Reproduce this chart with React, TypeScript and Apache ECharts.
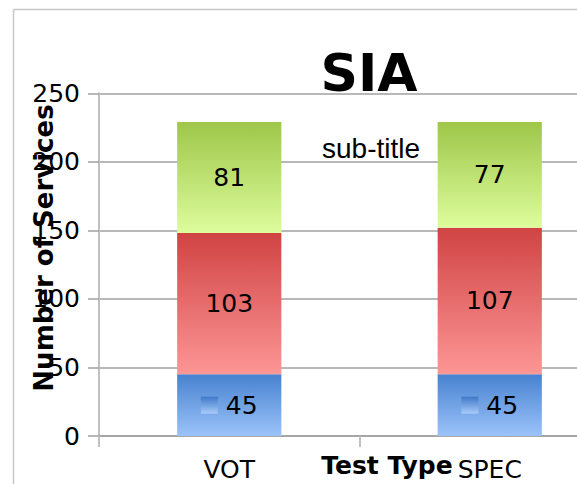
import React, { useEffect, useRef } from "react";
import * as echarts from "echarts";

const categories = ["VOT", "SPEC"];
const blueValues = [45, 45];
const redValues = [103, 107];
const greenValues = [81, 77];
const yTicks = { min: 0, max: 250, interval: 50 };

const FONT = "DejaVu Sans";

function grad(top: string, bottom: string) {
  return new echarts.graphic.LinearGradient(0, 0, 0, 1, [
    { offset: 0, color: top },
    { offset: 1, color: bottom },
  ]);
}

export default function App() {
  const ref = useRef<HTMLDivElement>(null);
  useEffect(() => {
    if (!ref.current) return;
    const chart = echarts.init(ref.current, null, { renderer: "svg" });
    const labelBase = {
      show: true,
      position: "inside",
      color: "#000",
      fontFamily: FONT,
      fontSize: 25,
    };
    chart.setOption({
      animation: false,
      grid: { left: 99, top: 93.3, right: -43, bottom: 48, outerBoundsMode: "none" },
      graphic: [
        { type: "line", shape: { x1: 13.5, y1: 9.5, x2: 13.5, y2: 484 }, style: { stroke: "#c8c8c8", lineWidth: 1.5 } },
        { type: "line", shape: { x1: 13.5, y1: 9.5, x2: 577, y2: 9.5 }, style: { stroke: "#c8c8c8", lineWidth: 1.5 } },
        { type: "text", x: 369, y: 73, style: { text: "SIA", font: `bold 52px "${FONT}"`, fill: "#000", textAlign: "center", textVerticalAlign: "middle" } },
        { type: "text", x: 371, y: 148, z: 10, style: { text: "sub-title", font: `28px "Liberation Sans"`, fill: "#000", textAlign: "center", textVerticalAlign: "middle" } },
        { type: "text", x: 387, y: 465, style: { text: "Test Type", font: `bold 25px "${FONT}"`, fill: "#000", textAlign: "center", textVerticalAlign: "middle" } },
        { type: "text", x: 44, y: 248, rotation: Math.PI / 2, style: { text: "Number of Services", font: `bold 26px "${FONT}"`, fill: "#000", textAlign: "center", textVerticalAlign: "middle" } },
      ],
      xAxis: {
        type: "category",
        data: categories,
        axisLine: { show: true, lineStyle: { color: "#a0a0a0", width: 1.5 } },
        axisTick: { show: true, length: 11, lineStyle: { color: "#c0c0c0", width: 2 } },
        axisLabel: { fontFamily: FONT, fontSize: 25, color: "#000", margin: 21 },
      },
      yAxis: {
        type: "value",
        min: yTicks.min,
        max: yTicks.max,
        interval: yTicks.interval,
        axisLine: { show: true, lineStyle: { color: "#c0c0c0", width: 2 } },
        axisTick: { show: true, length: 11, lineStyle: { color: "#a0a0a0", width: 1.5 } },
        axisLabel: { fontFamily: FONT, fontSize: 25, color: "#000", margin: 19 },
        splitLine: { show: true, lineStyle: { color: "#a0a0a0", width: 1.5 } },
      },
      series: [
        {
          type: "bar",
          stack: "s",
          barWidth: "40%",
          data: blueValues,
          itemStyle: { color: grad("#4782d0", "#9cc3f9") },
          label: {
            ...labelBase,
            formatter: "{i|} {v|{c}}",
            rich: {
              i: { width: 17, height: 17, backgroundColor: grad("#3f78c8", "#a8cbfa") },
              v: { fontFamily: FONT, fontSize: 25, color: "#000" },
            },
          },
        },
        {
          type: "bar",
          stack: "s",
          barWidth: "40%",
          data: redValues,
          itemStyle: { color: grad("#d04343", "#fd9696") },
          label: labelBase,
        },
        {
          type: "bar",
          stack: "s",
          barWidth: "40%",
          data: greenValues,
          itemStyle: { color: grad("#9ec649", "#ddfd9c") },
          label: labelBase,
        },
      ],
    });
    return () => chart.dispose();
  }, []);
  return <div ref={ref} style={{ width: 577, height: 484, position: "absolute", left: 0, top: 0 }} />;
}
